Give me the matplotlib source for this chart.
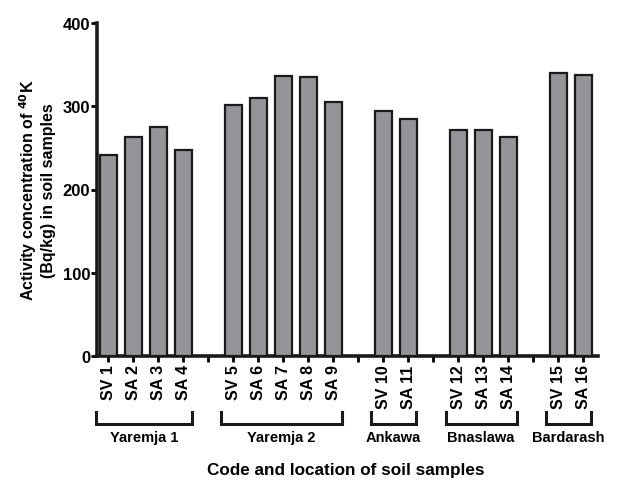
import matplotlib
matplotlib.use("Agg")
import matplotlib.pyplot as plt
from matplotlib.transforms import blended_transform_factory

plt.rcParams['font.family'] = ['Liberation Sans', 'DejaVu Sans']
plt.rcParams['font.weight'] = 'bold'

samples = ["SV 1", "SA 2", "SA 3", "SA 4",
           "SV 5", "SA 6", "SA 7", "SA 8", "SA 9",
           "SV 10", "SA 11",
           "SV 12", "SA 13", "SA 14",
           "SV 15", "SA 16"]
values = [241, 263, 275, 248,
          301, 310, 336, 335, 305,
          294, 285,
          272, 271, 263,
          340, 337]
groups = ["Yaremja 1", "Yaremja 2", "Ankawa", "Bnaslawa", "Bardarash"]
group_sizes = [4, 5, 2, 3, 2]

# slot positions with an empty slot between groups
positions = []
gap_positions = []
slot = 0
group_spans = []
for gi, n in enumerate(group_sizes):
    start = slot
    for _ in range(n):
        positions.append(slot)
        slot += 1
    group_spans.append((start, slot - 1))
    if gi < len(group_sizes) - 1:
        gap_positions.append(slot)
        slot += 1

fig = plt.figure(figsize=(6.19, 4.81), dpi=100)
ax = fig.add_axes([97/619, 1 - 357/481, (598 - 97)/619, (357 - 24)/481])

ax.bar(positions, values, width=0.68, color='#939598', edgecolor='#1a1a1a', linewidth=1.6, zorder=3)

ax.set_xlim(-0.45, 19.6)
ax.set_ylim(0, 400)
ax.set_yticks([0, 100, 200, 300, 400])
ax.tick_params(axis='y', labelsize=12, width=2, length=4, pad=1)
all_ticks = sorted(positions + gap_positions)
labels = []
for t in all_ticks:
    labels.append(samples[positions.index(t)] if t in positions else "")
ax.set_xticks(all_ticks)
ax.set_xticklabels(labels, rotation=90, fontsize=11.5, fontweight='bold')
ax.tick_params(axis='x', width=2, length=4, pad=2)

for s in ['top', 'right']:
    ax.spines[s].set_visible(False)
for s in ['left', 'bottom']:
    ax.spines[s].set_linewidth(2.6)
    ax.spines[s].set_color('#1a1a1a')

ax.set_ylabel("Activity concentration of $\\mathbf{^{40}}$K\n(Bq/kg) in soil samples",
              fontsize=11.5, fontweight='bold', labelpad=5, linespacing=1.1)

# group brackets below the tick labels
tr = blended_transform_factory(ax.transData, fig.transFigure)
y_top = 1 - 413/481
y_bot = 1 - 425/481
y_lab = 1 - 438/481
for (a, b), name in zip(group_spans, groups):
    x0 = a - 0.5
    x1 = b + 0.35 if b - a > 1 else b + 0.3
    ax.plot([x0, x0, x1, x1], [y_top, y_bot, y_bot, y_top], transform=tr,
            color='#1a1a1a', linewidth=2.2, clip_on=False, solid_joinstyle='miter')
    ax.text((x0 + x1) / 2, y_lab, name, transform=tr, ha='center', va='center',
            fontsize=10.5, fontweight='bold')

fig.text(346 / 619, 1 - 471/481, "Code and location of soil samples",
         ha='center', va='center', fontsize=12.3, fontweight='bold')

fig.savefig("out.png", dpi=100)
